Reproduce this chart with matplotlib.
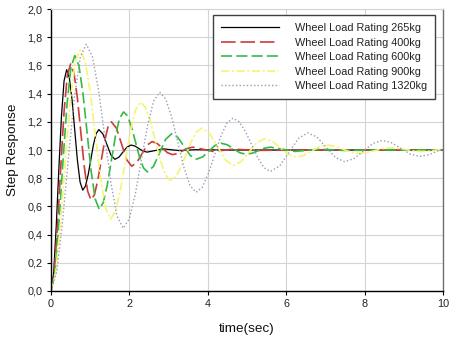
import matplotlib
matplotlib.use("Agg")
import matplotlib.pyplot as plt

plt.rcParams['font.family'] = ['Liberation Sans', 'DejaVu Sans']
plt.rcParams['lines.scale_dashes'] = False

labels = ["Wheel Load Rating 265kg", "Wheel Load Rating 400kg", "Wheel Load Rating 600kg",
          "Wheel Load Rating 900kg", "Wheel Load Rating 1320kg"]

t_265 = [0, 0.067, 0.133, 0.2, 0.267, 0.333, 0.40,
         0.468, 0.537, 0.605, 0.673, 0.742, 0.81,
         0.878, 0.947, 1.015, 1.083, 1.152, 1.22,
         1.323, 1.425, 1.528, 1.63, 1.733, 1.835, 1.938, 2.04,
         2.143, 2.245, 2.348, 2.45, 2.655, 2.86, 3.065, 3.27, 3.47, 3.68, 4.5, 10.0]
y_265 = [0, 0.126, 0.455, 0.864, 1.24, 1.49, 1.57,
         1.513, 1.356, 1.143, 0.929, 0.772, 0.715,
         0.744, 0.823, 0.930, 1.038, 1.116, 1.145,
         1.114, 1.040, 0.965, 0.934, 0.949, 0.985, 1.020, 1.035,
         1.028, 1.010, 0.992, 0.985, 0.996, 1.008, 1.002, 0.996, 0.999, 1.002, 1.0, 1.0]

t_400 = [0, 0.083, 0.167, 0.25, 0.333, 0.417, 0.50,
         0.587, 0.673, 0.76, 0.847, 0.933, 1.02,
         1.107, 1.193, 1.28, 1.367, 1.453, 1.54,
         1.67, 1.80, 1.93, 2.06, 2.19, 2.32, 2.45, 2.58,
         2.71, 2.84, 2.97, 3.10, 3.23, 3.36, 3.49, 3.62,
         3.88, 4.14, 4.40, 4.66, 4.92, 5.18, 6.0, 10.0]
y_400 = [0, 0.129, 0.467, 0.886, 1.272, 1.530, 1.61,
         1.545, 1.369, 1.128, 0.886, 0.710, 0.645,
         0.682, 0.784, 0.923, 1.061, 1.163, 1.20,
         1.154, 1.043, 0.931, 0.885, 0.911, 0.973, 1.034, 1.06,
         1.046, 1.014, 0.981, 0.967, 0.975, 0.994, 1.012, 1.02,
         1.005, 0.99, 0.998, 1.006, 1.002, 0.997, 1.0, 1.0]

t_600 = [0, 0.102, 0.203, 0.305, 0.407, 0.508, 0.61,
         0.713, 0.817, 0.92, 1.023, 1.127, 1.23,
         1.333, 1.437, 1.54, 1.643, 1.747, 1.85,
         1.952, 2.053, 2.155, 2.257, 2.358, 2.46,
         2.615, 2.77, 2.925, 3.08, 3.238, 3.395, 3.553, 3.71,
         3.868, 4.025, 4.183, 4.34, 4.498, 4.655, 4.813, 4.97,
         5.128, 5.285, 5.443, 5.60, 5.915, 6.23, 6.545, 6.86, 7.175, 7.49, 8.5, 10.0]
y_600 = [0, 0.134, 0.484, 0.919, 1.319, 1.587, 1.67,
         1.597, 1.398, 1.125, 0.853, 0.653, 0.58,
         0.626, 0.753, 0.925, 1.098, 1.224, 1.27,
         1.242, 1.164, 1.058, 0.951, 0.873, 0.845,
         0.884, 0.98, 1.076, 1.115, 1.089, 1.025, 0.961, 0.935,
         0.951, 0.992, 1.032, 1.048, 1.037, 1.009, 0.981, 0.97,
         0.977, 0.995, 1.013, 1.02, 1.005, 0.99, 0.998, 1.006, 1.001, 0.997, 1.0, 1.0]

t_900 = [0, 0.123, 0.247, 0.37, 0.493, 0.617, 0.74,
         0.87, 1.0, 1.13, 1.26, 1.39, 1.52,
         1.647, 1.773, 1.90, 2.027, 2.153, 2.28,
         2.408, 2.537, 2.665, 2.793, 2.922, 3.05,
         3.183, 3.317, 3.45, 3.583, 3.717, 3.85,
         4.05, 4.25, 4.45, 4.65, 4.85, 5.05, 5.25, 5.45,
         5.65, 5.85, 6.05, 6.25, 6.45, 6.65, 6.85, 7.05,
         7.25, 7.45, 7.65, 7.85, 8.05, 8.25, 8.45, 8.65,
         8.85, 9.05, 9.25, 9.45, 9.65, 9.85, 10.0]
y_900 = [0, 0.137, 0.496, 0.941, 1.351, 1.625, 1.71,
         1.630, 1.41, 1.11, 0.81, 0.590, 0.51,
         0.566, 0.718, 0.925, 1.133, 1.284, 1.34,
         1.303, 1.201, 1.063, 0.924, 0.822, 0.785,
         0.810, 0.878, 0.970, 1.063, 1.130, 1.155,
         1.116, 1.023, 0.929, 0.89, 0.918, 0.985, 1.052, 1.08,
         1.061, 1.015, 0.969, 0.95, 0.962, 0.993, 1.023, 1.035,
         1.026, 1.005, 0.984, 0.975, 0.981, 0.995, 1.009, 1.015,
         1.011, 1.003, 0.994, 0.99, 0.993, 1.0, 1.004]

t_1320 = [0, 0.15, 0.30, 0.45, 0.60, 0.75, 0.90,
          1.057, 1.213, 1.37, 1.527, 1.683, 1.84,
          1.995, 2.15, 2.305, 2.46, 2.615, 2.77,
          2.925, 3.08, 3.235, 3.39, 3.545, 3.70,
          3.857, 4.013, 4.17, 4.327, 4.483, 4.64,
          4.80, 4.96, 5.12, 5.28, 5.44, 5.60,
          5.838, 6.075, 6.313, 6.55, 6.785, 7.02, 7.255, 7.49,
          7.73, 7.97, 8.21, 8.45, 8.688, 8.925, 9.163, 9.40,
          9.638, 9.875, 10.0]
y_1320 = [0, 0.14, 0.508, 0.963, 1.383, 1.663, 1.75,
          1.663, 1.424, 1.098, 0.771, 0.532, 0.445,
          0.510, 0.686, 0.928, 1.169, 1.345, 1.41,
          1.362, 1.233, 1.055, 0.878, 0.748, 0.70,
          0.735, 0.831, 0.963, 1.094, 1.190, 1.225,
          1.200, 1.131, 1.037, 0.942, 0.873, 0.848,
          0.888, 0.985, 1.082, 1.122, 1.092, 1.020, 0.947, 0.917,
          0.939, 0.993, 1.046, 1.068, 1.052, 1.012, 0.971, 0.955,
          0.966, 0.994, 1.010]

x_ticks = [0, 2, 4, 6, 8, 10]
y_ticks = [0.0, 0.2, 0.4, 0.6, 0.8, 1.0, 1.2, 1.4, 1.6, 1.8, 2.0]
y_tick_labels = ["0,0", "0,2", "0,4", "0,6", "0,8", "1,0", "1,2", "1,4", "1,6", "1,8", "2,0"]

fig = plt.figure(figsize=(4.56, 3.48), dpi=100)
ax = fig.add_axes([51/456, 57/348, 392/456, 282/348])

ax.plot(t_265, y_265, color="#000000", lw=0.9, label=labels[0])
ax.plot(t_400, y_400, color="#cc3c3c", lw=1.2, dashes=(10.5, 3.5), label=labels[1])
ax.plot(t_600, y_600, color="#33bb44", lw=1.2, dashes=(8, 3), label=labels[2])
ax.plot(t_900, y_900, color="#f5f570", lw=1.2, dashes=(6, 1.8, 1.5, 1.8), label=labels[3])
ax.plot(t_1320, y_1320, color="#9a9ab4", lw=1.0, dashes=(1.0, 1.6), label=labels[4])

ax.set_xlim(0, 10)
ax.set_ylim(0, 2.0)
ax.set_xticks(x_ticks)
ax.set_xticklabels([str(v) for v in x_ticks])
ax.set_yticks(y_ticks)
ax.set_yticklabels(y_tick_labels)
ax.grid(True, color="#d4d4d4", lw=0.8)
ax.set_axisbelow(True)
ax.tick_params(axis="both", labelsize=7.8, length=3, width=0.8, color="#000000",
               labelcolor="#222222", pad=3)
for side in ["left", "bottom"]:
    ax.spines[side].set_color("#000000")
    ax.spines[side].set_linewidth(1.0)
ax.spines["right"].set_color("#707070")
ax.spines["right"].set_linewidth(1.0)
ax.spines["top"].set_color("#d4d4d4")
ax.spines["top"].set_linewidth(0.8)

ax.set_xlabel("time(sec)", fontsize=9.7, labelpad=10, color="#111111")
ax.set_ylabel("Step Response", fontsize=9.7, labelpad=6, color="#111111")

leg = ax.legend(loc="upper right", bbox_to_anchor=(0.98, 0.979), fontsize=7.8,
                handlelength=5.4, handletextpad=1.45, labelspacing=0.42,
                borderpad=0.75, borderaxespad=0, fancybox=False, framealpha=1,
                edgecolor="#404040")
leg.get_frame().set_linewidth(1.0)
for txt in leg.get_texts():
    txt.set_color("#222222")

fig.savefig("out.png", dpi=100)
